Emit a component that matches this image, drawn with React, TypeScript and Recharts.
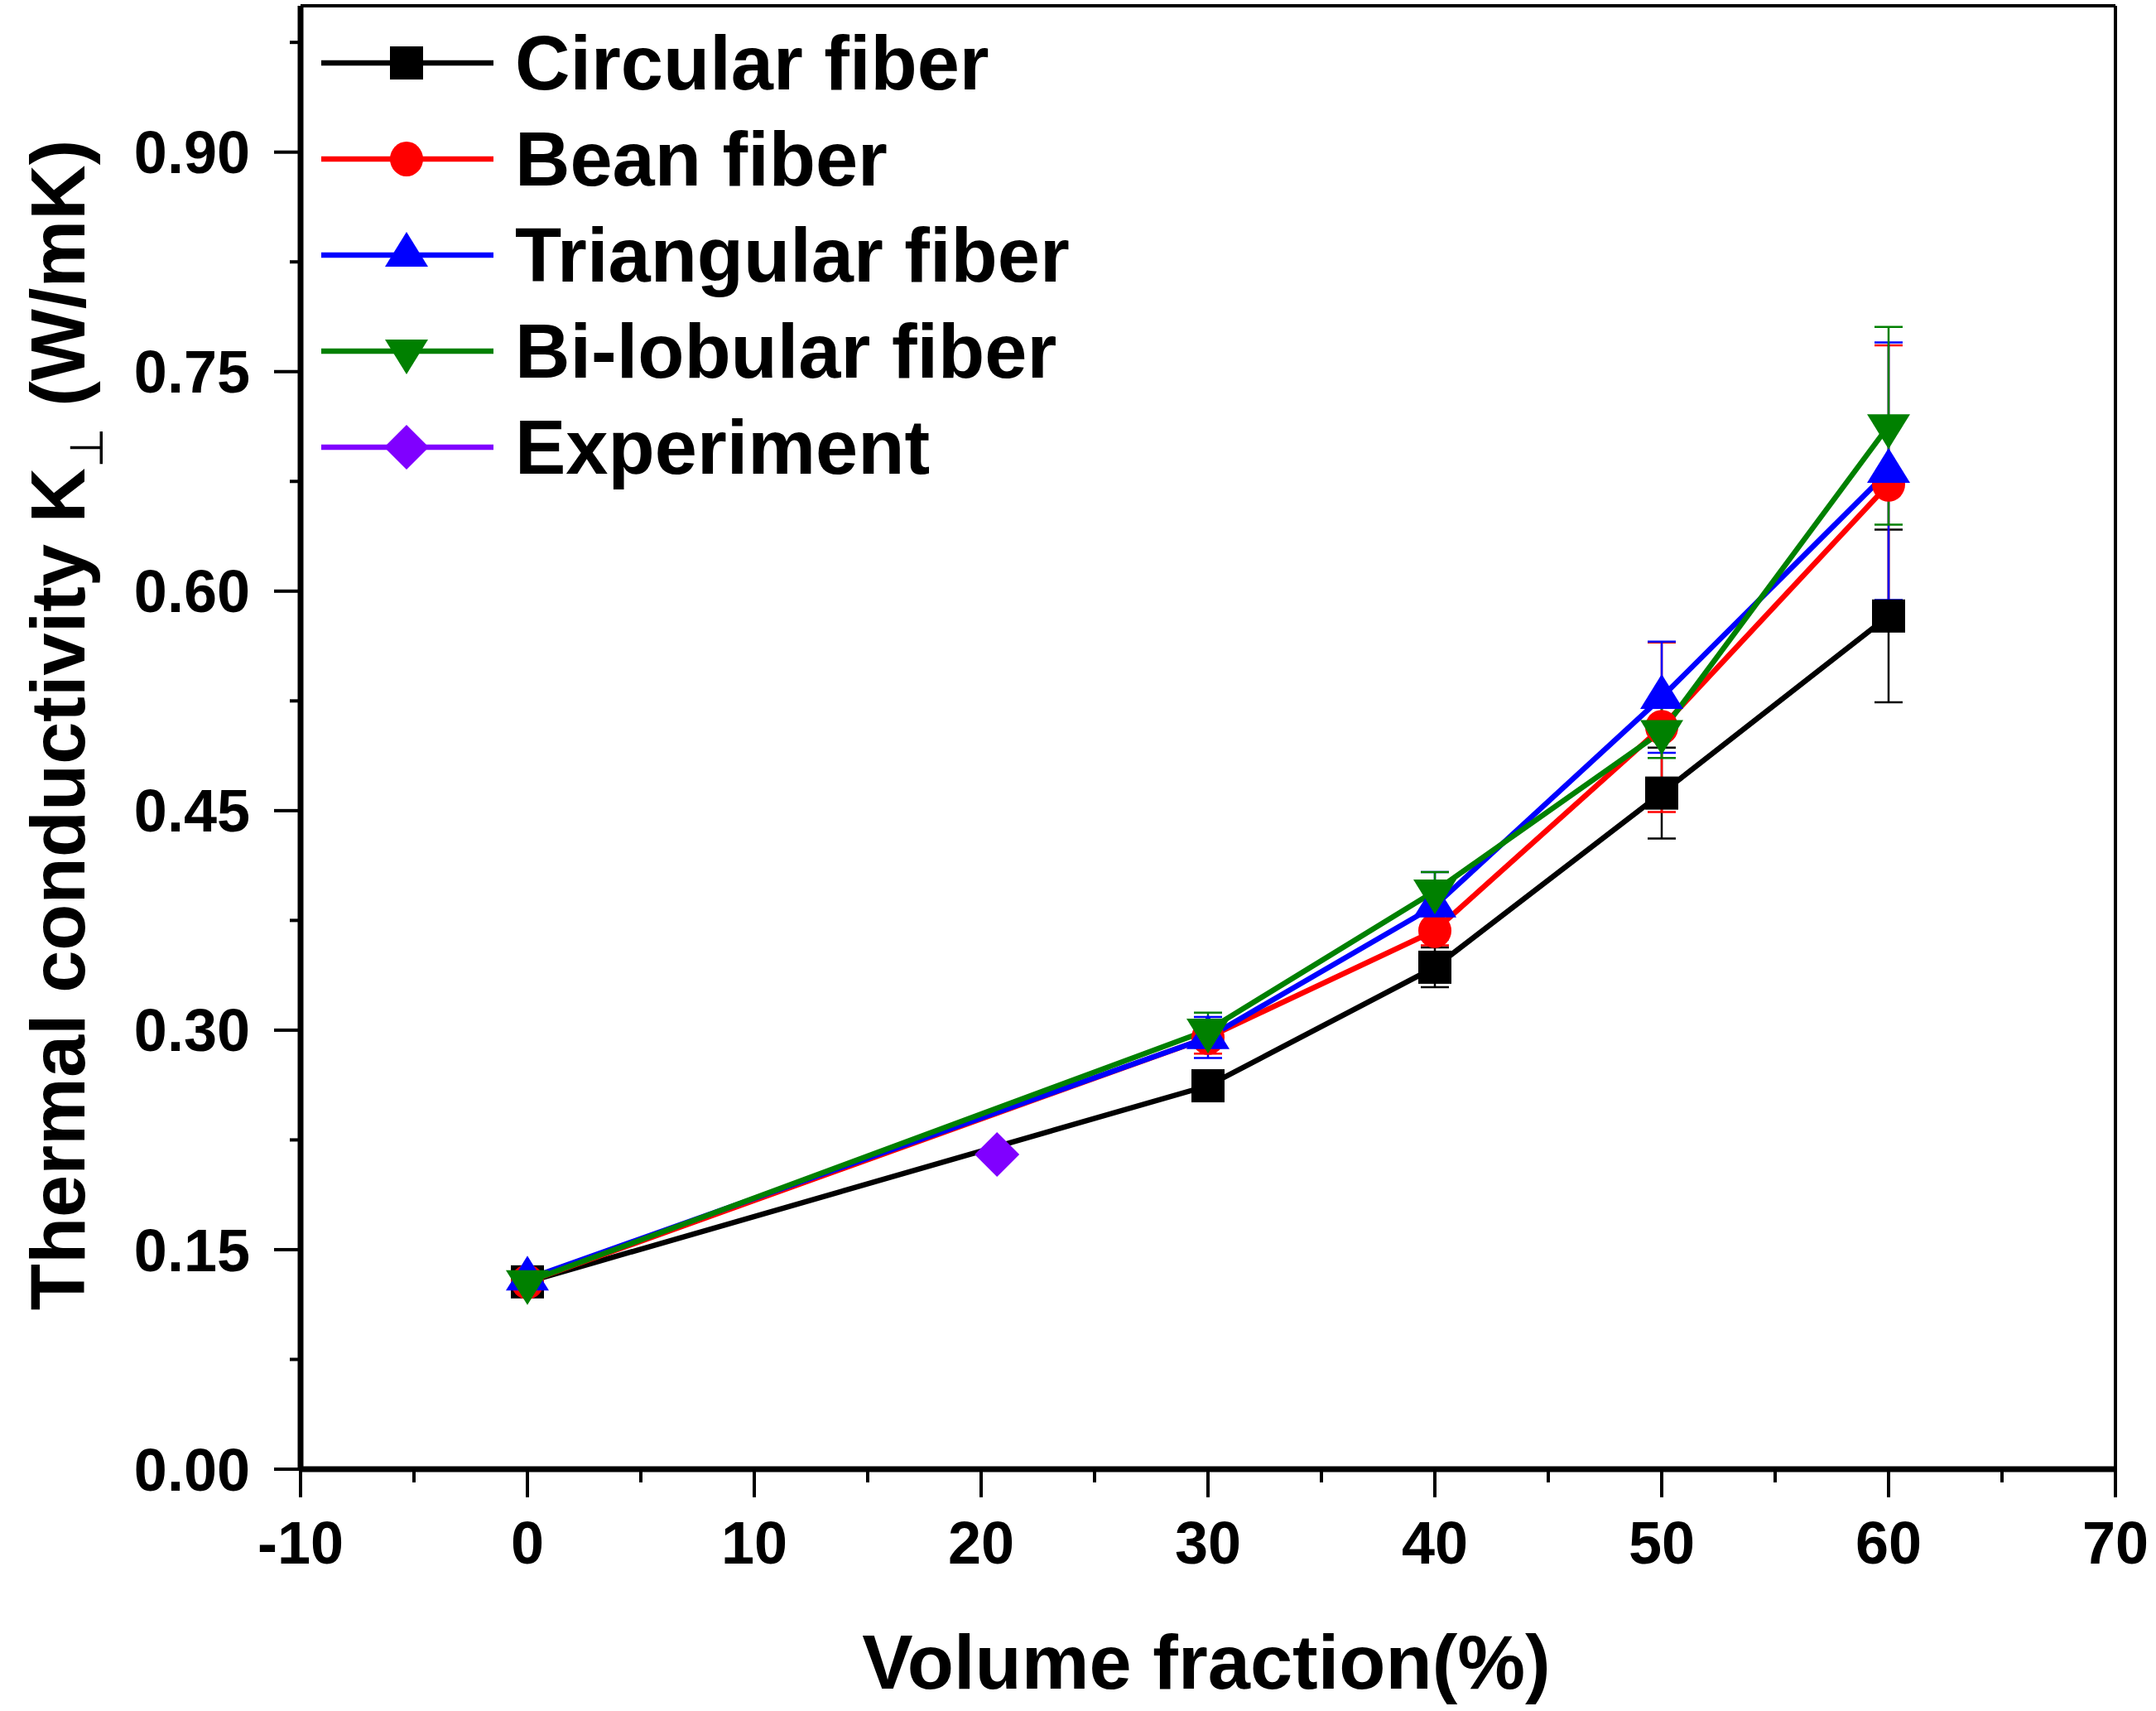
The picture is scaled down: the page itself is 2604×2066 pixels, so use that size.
import React from "react";
import {
  LineChart,
  Line,
  XAxis,
  YAxis,
  ErrorBar,
  Legend,
  ReferenceLine,
} from "recharts";

// volume fraction (%) of the simulated fibers
const volumeFraction = [0, 30, 40, 50, 60];

const circularK = [0.128, 0.262, 0.343, 0.462, 0.583];
const circularErr = [0, 0.008, 0.0136, 0.031, 0.059];
const beanK = [0.128, 0.295, 0.368, 0.507, 0.673];
const beanErr = [0, 0.011, 0.01, 0.058, 0.095];
const triangularK = [0.13, 0.295, 0.385, 0.5275, 0.682];
const triangularErr = [0, 0.014, 0.023, 0.038, 0.088];
const bilobularK = [0.128, 0.3, 0.395, 0.504, 0.713];
const bilobularErr = [0, 0.012, 0.013, 0.018, 0.0675];

const experimentX = [20.7];
const experimentK = [0.215];

const seriesNames = [
  "Circular fiber",
  "Bean fiber",
  "Triangular fiber",
  "Bi-lobular fiber",
  "Experiment",
];
const seriesColors = ["#000000", "#FF0000", "#0000FF", "#008000", "#8000FF"];
const seriesShapes = ["square", "circle", "triangle", "triangleDown", "diamond"];

const yMajorTicks = [0, 0.15, 0.3, 0.45, 0.6, 0.75, 0.9];
const yMinorTicks = [0.075, 0.225, 0.375, 0.525, 0.675, 0.825, 0.975];
const xMajorTicks = [-10, 0, 10, 20, 30, 40, 50, 60, 70];
const xMinorTicks = [-5, 5, 15, 25, 35, 45, 55, 65];

const fiberData = volumeFraction.map((x, i) => ({
  x,
  circular: circularK[i],
  circularErr: circularErr[i],
  bean: beanK[i],
  beanErr: beanErr[i],
  triangular: triangularK[i],
  triangularErr: triangularErr[i],
  bilobular: bilobularK[i],
  bilobularErr: bilobularErr[i],
}));

const experimentData = experimentX.map((x, i) => ({ x, experiment: experimentK[i] }));

const FONT = '"Liberation Sans", Arial, Helvetica, sans-serif';

const Y_TICK_SIZE = 32;
const Y_TICK_MARGIN = 29;
const X_TICK_SIZE = 34;
const X_TICK_MARGIN = 29;
const LINE_W = 6.5;

const isIn = (list: number[], v: number) => list.some((t) => Math.abs(t - v) < 1e-6);

function Marker({ shape, cx, cy, color }: any) {
  switch (shape) {
    case "square":
      return <rect x={cx - 20} y={cy - 20} width={40} height={40} fill={color} />;
    case "circle":
      return <ellipse cx={cx} cy={cy} rx={20} ry={21} fill={color} />;
    case "triangle":
      return (
        <polygon
          points={`${cx},${cy - 28} ${cx + 26},${cy + 14} ${cx - 26},${cy + 14}`}
          fill={color}
        />
      );
    case "triangleDown":
      return (
        <polygon
          points={`${cx},${cy + 28} ${cx + 26},${cy - 14} ${cx - 26},${cy - 14}`}
          fill={color}
        />
      );
    default:
      return (
        <polygon
          points={`${cx},${cy - 27} ${cx + 27},${cy} ${cx},${cy + 27} ${cx - 27},${cy}`}
          fill={color}
        />
      );
  }
}

const makeDot = (i: number) => (p: any) => (
  <g key={`dot-${i}-${p.index}`}>
    <Marker shape={seriesShapes[i]} cx={p.cx} cy={p.cy} color={seriesColors[i]} />
  </g>
);

function YTick({ x, y, payload }: any) {
  const axisX = x + Y_TICK_SIZE + Y_TICK_MARGIN;
  const major = isIn(yMajorTicks, payload.value);
  return (
    <g>
      <line x1={axisX - (major ? 32 : 13)} x2={axisX} y1={y} y2={y} stroke="#000" strokeWidth={4} />
      {major && (
        <text
          x={x}
          y={y}
          dy="0.355em"
          textAnchor="end"
          fontFamily={FONT}
          fontWeight="bold"
          fontSize={72}
          fill="#000"
        >
          {payload.value.toFixed(2)}
        </text>
      )}
    </g>
  );
}

function XTick({ x, y, payload }: any) {
  const axisY = y - X_TICK_SIZE - X_TICK_MARGIN;
  const major = isIn(xMajorTicks, payload.value);
  return (
    <g>
      <line x1={x} x2={x} y1={axisY} y2={axisY + (major ? 34 : 16)} stroke="#000" strokeWidth={4} />
      {major && (
        <text
          x={x}
          y={y}
          dy="0.71em"
          textAnchor="middle"
          fontFamily={FONT}
          fontWeight="bold"
          fontSize={72}
          fill="#000"
        >
          {payload.value}
        </text>
      )}
    </g>
  );
}

function XTitle({ viewBox }: any) {
  return (
    <text
      x={viewBox.x + viewBox.width / 2 - 2}
      y={viewBox.y + 265}
      textAnchor="middle"
      fontFamily={FONT}
      fontWeight="bold"
      fontSize={92}
      fill="#000"
    >
      Volume fraction(%)
    </text>
  );
}

function YTitle({ viewBox }: any) {
  const cx = viewBox.x + 102;
  const cy = viewBox.y + viewBox.height / 2 - 15;
  return (
    <text
      x={cx}
      y={cy}
      transform={`rotate(-90, ${cx}, ${cy})`}
      textAnchor="middle"
      fontFamily={FONT}
      fontWeight="bold"
      fontSize={92}
      fill="#000"
    >
      Thermal conductivity K
      <tspan dy={22} fontSize={56} fontWeight="normal" fontFamily='"DejaVu Sans", sans-serif'>
        ⊥
      </tspan>
      <tspan dy={-22}> (W/mK)</tspan>
    </text>
  );
}

function LegendBox() {
  return (
    <div style={{ display: "flex", flexDirection: "column" }}>
      {seriesNames.map((name, i) => (
        <div key={name} style={{ display: "flex", alignItems: "center", height: 116 }}>
          <svg width={208} height={116} style={{ display: "block" }}>
            <line x1={0} x2={208} y1={58} y2={58} stroke={seriesColors[i]} strokeWidth={LINE_W} />
            <Marker shape={seriesShapes[i]} cx={103} cy={58} color={seriesColors[i]} />
          </svg>
          <span
            style={{
              marginLeft: 26,
              fontFamily: FONT,
              fontWeight: "bold",
              fontSize: 92,
              lineHeight: "116px",
              color: "#000",
              whiteSpace: "nowrap",
            }}
          >
            {name}
          </span>
        </div>
      ))}
    </div>
  );
}

const fiberKeys = ["circular", "bean", "triangular", "bilobular"];

export default function App() {
  return (
    <div style={{ position: "absolute", left: 0, top: 0, background: "#fff" }}>
      <LineChart
        width={2604}
        height={2066}
        data={fiberData}
        margin={{ top: 7, right: 49, left: 0, bottom: 0 }}
      >
        <XAxis
          dataKey="x"
          type="number"
          domain={[-10, 70]}
          ticks={[...xMajorTicks, ...xMinorTicks].sort((a, b) => a - b)}
          interval={0}
          height={292}
          tickSize={X_TICK_SIZE}
          tickMargin={X_TICK_MARGIN}
          tickLine={false}
          tick={<XTick />}
          axisLine={{ stroke: "#000", strokeWidth: 7 }}
          allowDataOverflow
          label={<XTitle />}
        />
        <YAxis
          type="number"
          domain={[0, 1]}
          ticks={[...yMajorTicks, ...yMinorTicks].sort((a, b) => a - b)}
          interval={0}
          width={363}
          tickSize={Y_TICK_SIZE}
          tickMargin={Y_TICK_MARGIN}
          tickLine={false}
          tick={<YTick />}
          axisLine={{ stroke: "#000", strokeWidth: 7 }}
          allowDataOverflow
          label={<YTitle />}
        />
        <ReferenceLine y={1} stroke="#000" strokeWidth={4} />
        <ReferenceLine x={70} stroke="#000" strokeWidth={4} />
        {fiberKeys.map((key, i) => (
          <Line
            key={key}
            dataKey={key}
            name={seriesNames[i]}
            type="linear"
            stroke={seriesColors[i]}
            strokeWidth={LINE_W}
            dot={makeDot(i)}
            activeDot={false}
            isAnimationActive={false}
          >
            <ErrorBar
              dataKey={`${key}Err`}
              direction="y"
              width={17}
              stroke={seriesColors[i]}
              strokeWidth={2.5}
            />
          </Line>
        ))}
        <Line
          data={experimentData}
          dataKey="experiment"
          name={seriesNames[4]}
          stroke={seriesColors[4]}
          strokeWidth={LINE_W}
          dot={makeDot(4)}
          activeDot={false}
          isAnimationActive={false}
        />
        <Legend
          layout="horizontal"
          verticalAlign="middle"
          align="center"
          content={<LegendBox />}
          wrapperStyle={{ left: 388, top: 18, width: 1200, height: 580 }}
        />
      </LineChart>
    </div>
  );
}
